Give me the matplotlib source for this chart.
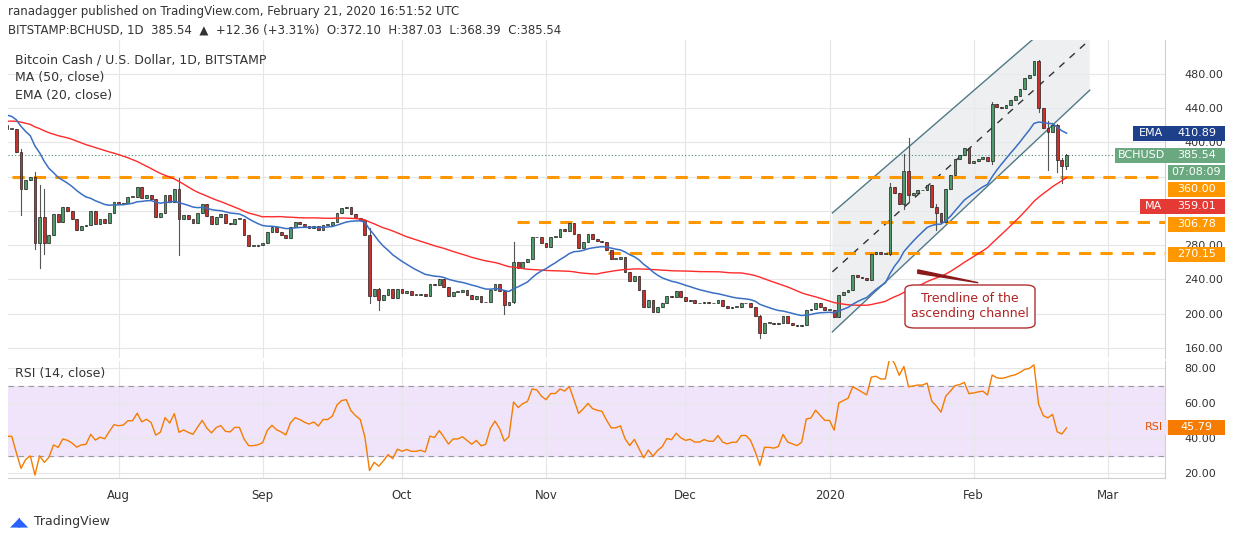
import numpy as np
import pandas as pd
import matplotlib
matplotlib.use("Agg")
import matplotlib.pyplot as plt
import matplotlib.dates as mdates
from matplotlib.patches import Rectangle, FancyBboxPatch, Polygon

# daily closes, Jul 8 2019 .. Feb 21 2020
closes = [416,416,389,346,356,360,282,313,283,292, 316,307,324,320,311,298,302,303,320,305,
          310,306,318,330,328,329,336,336,348,335, 339,334,313,317,339,330,346,311,315,310,
          306,317,328,314,305,313,316,306,305,311, 311,292,279,279,280,282,295,301,295,292,
          288,301,307,305,302,300,302,298,304,304, 307,318,323,324,316,312,309,292,220,229,
          216,222,229,218,229,224,226,222,222,223, 220,235,233,240,231,220,225,225,227,222,
          217,220,213,214,227,234,226,210,214,260, 253,260,264,290,289,282,278,290,
          290,299,297,306,293,277,284,293,287,285, 284,274,264,264,266,249,238,244,228,208,
          216,202,208,212,221,219,226,219,215,216, 212,212,214,212,212,216,209,207,208,208,
          212,212,208,197,177,189,189,188,189,197, 189,187,185,187,204,205,212,208,204,204,
          196,222,225,228,245,243,241,239,270,272, 270,270,348,341,328,367,338,341,344,344,
          350,325,317,307,346,362,381,385,393,376, 378,381,383,378,445,441,440,444,450,454,
          463,475,479,495,440,417,412,420,379,373, 385.54]
first_open = 420
# closes before the window (for MA / EMA / RSI warm-up)
pre_closes = [410,405,400,395,420,430,425,415,410,405, 400,395,390,385,395,400,405,410,400,395,
              390,395,400,405,410,420,430,445,460,470, 480,470,460,455,445,440,450,460,470,480,
              470,455,440,430,425,420,410,415,420,418]
# visible long wicks: index -> (high, low)
wicks = {3: (392, 315), 6: (365, 275), 7: (350, 253), 8: (345, 270), 37: (358, 268),
         78: (300, 212), 80: (230, 204), 107: (226, 199), 109: (284, 212), 162: (198, 171),
         190: (352, 268), 193: (386, 322), 194: (405, 330), 200: (328, 298), 212: (447, 375),
         222: (496, 435), 224: (425, 368), 226: (422, 365), 227: (382, 352), 228: (387.03, 368.39)}
last_open = 372.10
levels = [360.00, 306.78, 270.15]
level_starts = ["2019-07-09", "2019-10-25 20:00", "2019-11-14 10:00"]
chan_upper = [("2020-01-01 15:00", 317.6), ("2020-02-26", 578)]
chan_lower = [("2020-01-01 15:00", 178.6), ("2020-02-26", 461)]
chan_mid = [("2020-01-01 15:00", 248.7), ("2020-02-26", 520)]
price_ticks = [160, 200, 240, 280, 320, 360, 400, 440, 480]
hidden_ticks = [320, 360]
rsi_ticks = [20, 40, 60, 80]
month_ticks = ["2019-08-01", "2019-09-01", "2019-10-01", "2019-11-01", "2019-12-01",
               "2020-01-01", "2020-02-01", "2020-03-01"]
month_labels = ["Aug", "Sep", "Oct", "Nov", "Dec", "2020", "Feb", "Mar"]

n = len(closes)
dates = pd.date_range(end="2020-02-21", periods=n, freq="D")
xs = mdates.date2num(dates)
opens = [first_open] + closes[:-1]
opens[-1] = last_open

allc = pd.Series(pre_closes + closes, dtype=float)
ma50 = allc.rolling(50).mean().values[len(pre_closes):]
ema20 = allc.ewm(span=20, adjust=False).mean().values[len(pre_closes):]
d = allc.diff()
up = d.clip(lower=0).ewm(alpha=1 / 14, adjust=False).mean()
dn = (-d.clip(upper=0)).ewm(alpha=1 / 14, adjust=False).mean()
rsi = (100 - 100 / (1 + up / dn)).values[len(pre_closes):]

W, H = 1234, 541
fig = plt.figure(figsize=(W / 100, H / 100), dpi=100)
fig.patch.set_facecolor("white")

def px(l, t, r, b):
    return [l / W, 1 - b / H, (r - l) / W, (b - t) / H]

ax = fig.add_axes(px(8, 40, 1165, 358))
ax2 = fig.add_axes(px(8, 361, 1165, 478), sharex=ax)
x0 = mdates.date2num(pd.Timestamp("2019-07-08")) + 0.2
ax.set_xlim(x0, x0 + 249)
ax.set_ylim(148, 519.7)
ax2.set_ylim(17.2, 84)

grid_c = "#e6e6e6"
for a in (ax, ax2):
    for s in a.spines.values():
        s.set_color("#cfcfcf")
    a.spines["left"].set_visible(False)
    a.spines["top"].set_visible(False)
    a.yaxis.tick_right()
    a.tick_params(axis="y", length=0, labelsize=8, colors="#333333", pad=14)
    a.tick_params(axis="x", length=0)
    a.grid(True, color=grid_c, lw=0.8)
    a.set_axisbelow(True)
ax.set_yticks(price_ticks)
ax.set_yticklabels(["" if v in hidden_ticks else f"{v:.2f}" for v in price_ticks])
ax2.set_yticks(rsi_ticks)
ax2.set_yticklabels([f"{v:.2f}" for v in rsi_ticks])
mt = mdates.date2num(pd.to_datetime(month_ticks))
ax2.set_xticks(mt)
ax2.set_xticklabels(month_labels, fontsize=8.5, color="#333333")
ax2.tick_params(axis="x", pad=8)
plt.setp(ax.get_xticklabels(), visible=False)
ax.spines["bottom"].set_visible(False)

# channel
def cpts(p):
    return [(mdates.date2num(pd.Timestamp(t)), v) for t, v in p]
up_p, lo_p, mid_p = cpts(chan_upper), cpts(chan_lower), cpts(chan_mid)
ax.add_patch(Polygon(up_p + lo_p[::-1], closed=True, fc="#e9ebee", ec="none", alpha=0.8, zorder=1))
ax.plot([p[0] for p in up_p], [p[1] for p in up_p], color="#4f7a86", lw=1, zorder=2)
ax.plot([p[0] for p in lo_p], [p[1] for p in lo_p], color="#4f7a86", lw=1, zorder=2)
ax.plot([p[0] for p in mid_p], [p[1] for p in mid_p], color="#333333", lw=1, ls=(0, (5, 5)), zorder=2)

# horizontal levels
for lv, st in zip(levels, level_starts):
    ax.plot([mdates.date2num(pd.Timestamp(st)), x0 + 249], [lv, lv], color="#ff9800",
            lw=2.2, ls=(0, (4, 3)), zorder=3)
ax.axhline(closes[-1], color="#4a8a66", lw=0.8, ls=(0, (1, 2)), zorder=2)

# candles
up_c, dn_c = "#4f9a6a", "#c9302c"
for i in range(n):
    o, c = opens[i], closes[i]
    hi, lo = wicks.get(i, (max(o, c), min(o, c)))
    col = up_c if c >= o else dn_c
    ax.plot([xs[i], xs[i]], [lo, hi], color="#555555", lw=0.8, zorder=4)
    bh = max(abs(c - o), 0.8)
    ax.add_patch(Rectangle((xs[i] - 0.3, min(o, c)), 0.6, bh, fc=col, ec="#222222", lw=0.5, zorder=5))

ax.plot(xs, ma50, color="#ff2a2a", lw=1, zorder=6)
ax.plot(xs, ema20, color="#3a6fc4", lw=1.1, zorder=6)

# annotation pointer and box
ax.add_patch(Polygon([(mdates.date2num(pd.Timestamp("2020-01-20")), 251),
                      (mdates.date2num(pd.Timestamp("2020-02-02")), 236),
                      (mdates.date2num(pd.Timestamp("2020-01-20")), 247)],
                     closed=True, fc="#8b1a1a", ec="#8b1a1a", lw=1, zorder=7))
fig.patches.append(FancyBboxPatch((905 / W, 1 - 328 / H), 130 / W, 43 / H,
                                  boxstyle="round,pad=0,rounding_size=0.008",
                                  transform=fig.transFigure, fc="white", ec="#b03030", lw=1))
fig.text(970 / W, 1 - 306 / H, "Trendline of the\nascending channel", color="#b22222",
         fontsize=9, ha="center", va="center", linespacing=1.1)

# RSI panel
ax2.axhspan(30, 70, color="#f0e4fa", zorder=0)
for lv in (30, 70):
    ax2.axhline(lv, color="#9a9a9a", lw=0.8, ls=(0, (5, 4)))
ax2.plot(xs, rsi, color="#f57c00", lw=1, zorder=3)

# texts
fig.text(8 / W, 1 - 12 / H, "ranadagger published on TradingView.com, February 21, 2020 16:51:52 UTC",
         fontsize=8.5, color="#333333", va="center")
fig.text(8 / W, 1 - 30 / H, "BITSTAMP:BCHUSD, 1D  385.54  \u25b2  +12.36 (+3.31%)  O:372.10  H:387.03  L:368.39  C:385.54",
         fontsize=8.5, color="#333333", va="center")
fig.text(15 / W, 1 - 60 / H, "Bitcoin Cash / U.S. Dollar, 1D, BITSTAMP", fontsize=9, color="#333333", va="center")
fig.text(15 / W, 1 - 78 / H, "MA (50, close)", fontsize=9, color="#333333", va="center")
fig.text(15 / W, 1 - 95 / H, "EMA (20, close)", fontsize=9, color="#333333", va="center")
fig.text(15 / W, 1 - 373 / H, "RSI (14, close)", fontsize=9, color="#333333", va="center")
fig.text(34 / W, 1 - 522 / H, "TradingView", fontsize=9, color="#333333", va="center")
fig.text(10 / W, 1 - 522 / H, "\u25e2\u25e3", fontsize=9, color="#2962ff", va="center")

def tag(x, y, w, txt, fc, tc="white", h=15):
    fig.patches.append(Rectangle((x / W, 1 - (y + h / 2) / H), w / W, h / H,
                                 transform=fig.transFigure, fc=fc, ec="none"))
    fig.text((x + w / 2) / W, 1 - y / H, txt, color=tc, fontsize=8, ha="center", va="center")

tag(1133, 133, 35, "EMA", "#1e3f8a")
tag(1168, 133, 57, f"{ema20[-1]:.2f}", "#1e3f8a")
tag(1115, 155, 53, "BCHUSD", "#6aa87f")
tag(1168, 155, 57, f"{closes[-1]:.2f}", "#6aa87f")
tag(1168, 172, 57, "07:08:09", "#6aa87f")
tag(1168, 189, 57, f"{levels[0]:.2f}", "#ff9800")
tag(1140, 206, 28, "MA", "#e53935")
tag(1168, 206, 57, f"{ma50[-1]:.2f}", "#e53935")
tag(1168, 224, 57, f"{levels[1]:.2f}", "#ff9800")
tag(1168, 254, 57, f"{levels[2]:.2f}", "#ff9800")
tag(1140, 427, 28, "RSI", "#f0e4fa", tc="#e65100")
tag(1168, 427, 57, f"{rsi[-1]:.2f}", "#f57c00")

fig.savefig("out.png", dpi=100)
